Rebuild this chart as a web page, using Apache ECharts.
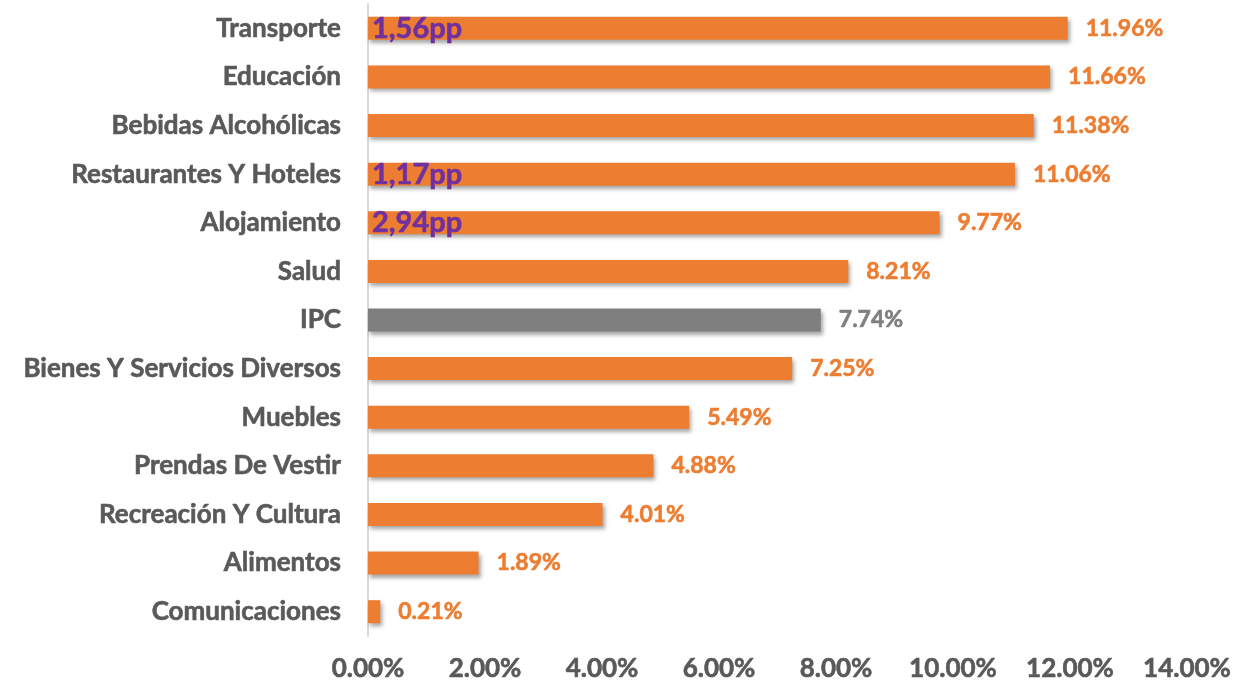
<!DOCTYPE html>
<html>
<head>
<meta charset="utf-8">
<script src="https://cdn.jsdelivr.net/npm/echarts@6/dist/echarts.min.js"></script>
<style>
  html, body { margin: 0; padding: 0; background: #fff; }
  #chart { width: 1236px; height: 685px; }
</style>
</head>
<body>
<div id="chart"></div>
<script>
const categories = ['Transporte', 'Educación', 'Bebidas Alcohólicas', 'Restaurantes Y Hoteles', 'Alojamiento', 'Salud', 'IPC',
  'Bienes Y Servicios Diversos', 'Muebles', 'Prendas De Vestir', 'Recreación Y Cultura', 'Alimentos', 'Comunicaciones']
const values = [11.96, 11.66, 11.38, 11.06, 9.77, 8.21, 7.74, 7.25, 5.49, 4.88, 4.01, 1.89, 0.21]
const notes = ['1,56pp', '', '', '1,17pp', '2,94pp', '', '', '', '', '', '', '', '']
const xTicks = [0, 2, 4, 6, 8, 10, 12, 14]

const orange = '#ED7D31'
const gray = '#7F7F7F'
const textGray = '#595959'
const purple = '#7030A0'
const font = 'Lato'

let chart = echarts.init(document.getElementById('chart'))

// lato bold is a bit light next to the original, a thin stroke thickens it
function heavy(color, size) {
  return {
    color: color,
    fontFamily: font,
    fontWeight: 'bold',
    fontSize: size,
    textBorderColor: color,
    textBorderWidth: 0.6
  }
}

let option = {
  animation: false,
  grid: { left: 368, right: 49, top: 4, bottom: 49 },
  xAxis: {
    type: 'value',
    min: xTicks[0],
    max: xTicks[xTicks.length - 1],
    interval: 2,
    axisLine: { show: false },
    axisTick: { show: false },
    splitLine: { show: false },
    axisLabel: Object.assign(heavy(textGray, 26), {
      formatter: v => v.toFixed(2) + '%',
      margin: 20
    })
  },
  yAxis: {
    type: 'category',
    inverse: true,
    data: categories,
    axisLine: { show: true, lineStyle: { color: '#D9D9D9', width: 2 } },
    axisTick: { show: false },
    axisLabel: Object.assign(heavy(textGray, 26), { margin: 27 })
  },
  series: [
    {
      type: 'bar',
      barWidth: 23,
      data: values.map((v, i) => {
        let c = categories[i] === 'IPC' ? gray : orange
        return {
          value: v,
          itemStyle: { color: c },
          label: heavy(c, 23)
        }
      }),
      itemStyle: {
        shadowColor: 'rgba(0,0,0,0.35)',
        shadowBlur: 4,
        shadowOffsetX: 2,
        shadowOffsetY: 3
      },
      label: {
        show: true,
        position: 'right',
        distance: 18,
        formatter: p => p.value.toFixed(2) + '%'
      }
    },
    {
      type: 'bar',
      barWidth: 23,
      barGap: '-100%',
      silent: true,
      data: values,
      itemStyle: { color: 'transparent' },
      label: Object.assign(heavy(purple, 29), {
        show: true,
        position: 'insideLeft',
        distance: 4,
        formatter: p => notes[p.dataIndex]
      })
    }
  ]
}

chart.setOption(option)
</script>
</body>
</html>
